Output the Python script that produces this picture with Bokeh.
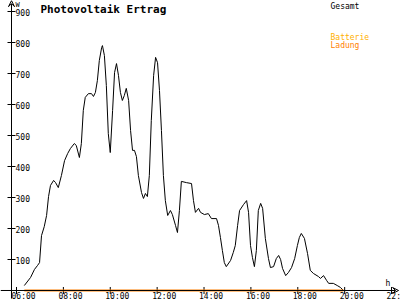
from bokeh.plotting import figure
from bokeh.models import Label, Arrow, VeeHead, Range1d
from bokeh.embed import file_html
from bokeh.resources import INLINE
from bokeh.core.properties import value
import math

# ---- data ----
times = ["06:20", "06:36", "06:46", "06:54", "06:59", "07:04", "07:11", "07:17", "07:22", "07:27",
         "07:35", "07:40", "07:47", "07:55", "08:03", "08:11", "08:18", "08:28", "08:33", "08:41",
         "08:46", "08:51", "08:56", "09:04", "09:12", "09:17", "09:22", "09:27", "09:32", "09:38",
         "09:40", "09:45", "09:50", "09:55", "10:00", "10:06", "10:11", "10:16", "10:21", "10:26",
         "10:31", "10:36", "10:41", "10:47", "10:52", "10:57", "11:02", "11:07", "11:12", "11:20",
         "11:25", "11:30", "11:35", "11:40", "11:45", "11:51", "11:56", "12:01", "12:06", "12:11",
         "12:16", "12:21", "12:27", "12:34", "12:39", "12:47", "12:52", "12:57", "13:02", "13:15",
         "13:28", "13:33", "13:38", "13:46", "13:51", "14:01", "14:11", "14:19", "14:32", "14:37",
         "14:42", "14:47", "14:52", "14:57", "15:08", "15:15", "15:20", "15:26", "15:31", "15:41",
         "15:49", "15:54", "15:59", "16:04", "16:09", "16:14", "16:19", "16:25", "16:30", "16:37",
         "16:45", "16:50", "16:58", "17:05", "17:11", "17:16", "17:21", "17:29", "17:36", "17:44",
         "17:52", "17:59", "18:04", "18:09", "18:17", "18:25", "18:32", "18:40", "18:53", "18:58",
         "19:06", "19:14", "19:19", "19:31", "19:41", "19:49", "19:57"]
gesamt = [16, 42, 68, 81, 90, 177, 206, 242, 303, 339,
          355, 348, 332, 371, 419, 442, 458, 474, 468, 429,
          474, 581, 623, 635, 635, 626, 639, 677, 742, 784,
          790, 758, 661, 506, 445, 581, 703, 732, 694, 639,
          613, 629, 652, 613, 516, 452, 452, 432, 371, 316,
          297, 313, 303, 371, 548, 694, 752, 735, 645, 516,
          371, 290, 242, 258, 245, 210, 187, 258, 352, 348,
          345, 290, 252, 265, 252, 245, 248, 232, 232, 210,
          171, 129, 90, 77, 97, 123, 145, 210, 258, 277,
          290, 252, 145, 106, 77, 129, 258, 281, 265, 168,
          103, 74, 77, 103, 113, 100, 71, 48, 58, 74,
          103, 145, 171, 184, 168, 119, 65, 55, 45, 39,
          48, 32, 23, 23, 16, 10, 0]
battery_times = ["06:20", "19:57"]
battery_values = [0, 0]

x_ticks = [6, 8, 10, 12, 14, 16, 18, 20, 22]
x_tick_labels = ["06:00", "08:00", "10:00", "12:00", "14:00", "16:00", "18:00", "20:00", "22:00"]
y_ticks = [100, 200, 300, 400, 500, 600, 700, 800, 900]
y_tick_labels = ["100", "200", "300", "400", "500", "600", "700", "800", "900"]


def hours(t):
    h, m = t.split(":")
    return int(h) + int(m) / 60.0


# ---- layout ----
X_START, X_END = 5.3174, 22.382
Y_START, Y_END = -32.26, 935.5
AXIS_X = 5.787
FONT_NAME = "DejaVu Sans Mono"
FONT = value(FONT_NAME)

p = figure(width=400, height=300, x_range=Range1d(X_START, X_END), y_range=Range1d(Y_START, Y_END),
           min_border=0, toolbar_location=None, output_backend="svg",
           x_axis_location=None, y_axis_location=None)
p.grid.visible = False
p.outline_line_color = None
p.background_fill_color = "white"
p.border_fill_color = "white"

# axes
p.add_layout(Arrow(end=VeeHead(size=6, line_color="black", line_width=1, fill_color=None),
                   x_start=X_START, y_start=0, x_end=22.30, y_end=0,
                   line_color="black", line_width=1))
p.add_layout(Arrow(end=VeeHead(size=6, line_color="black", line_width=1, fill_color=None),
                   x_start=AXIS_X, y_start=-26, x_end=AXIS_X, y_end=935,
                   line_color="black", line_width=1))

# ticks
p.scatter([AXIS_X] * len(y_ticks), y_ticks, marker="dash", size=8, line_color="black", line_width=1)
p.scatter(x_ticks, [0] * len(x_ticks), marker="dash", angle=math.pi / 2, size=7,
          line_color="black", line_width=1)

# tick labels
p.text([AXIS_X] * len(y_ticks), y_ticks, text=y_tick_labels, x_offset=4, y_offset=1,
       text_baseline="middle", text_align="left", text_font=FONT, text_font_size="8px",
       text_color="black")
p.text(x_ticks, [0] * len(x_ticks), text=x_tick_labels, x_offset=-5, y_offset=2,
       text_baseline="top", text_align="left", text_font=FONT, text_font_size="8px",
       text_color="black")

# series
p.line([hours(t) for t in times], gesamt, line_color="black", line_width=1)
p.line([hours(t) for t in battery_times], battery_values, line_color="#ff8000", line_width=2)

# texts
p.add_layout(Label(x=40, y=298, x_units="screen", y_units="screen", text="Photovoltaik Ertrag",
                   text_font=FONT_NAME, text_font_size="11px", text_font_style="bold",
                   text_baseline="top", text_color="black"))
p.add_layout(Label(x=15, y=300, x_units="screen", y_units="screen", text="W",
                   text_font=FONT_NAME, text_font_size="7px", text_baseline="top", text_color="black"))
p.add_layout(Label(x=385, y=22, x_units="screen", y_units="screen", text="h",
                   text_font=FONT_NAME, text_font_size="8px", text_baseline="top", text_color="black"))
p.add_layout(Label(x=330, y=299, x_units="screen", y_units="screen", text="Gesamt",
                   text_font=FONT_NAME, text_font_size="8px", text_baseline="top", text_color="black"))
p.add_layout(Label(x=330, y=268, x_units="screen", y_units="screen", text="Batterie",
                   text_font=FONT_NAME, text_font_size="8px", text_baseline="top", text_color="#ffb000"))
p.add_layout(Label(x=330, y=260, x_units="screen", y_units="screen", text="Ladung",
                   text_font=FONT_NAME, text_font_size="8px", text_baseline="top", text_color="#ff8000"))

open("out.html", "w").write(file_html(p, INLINE))
